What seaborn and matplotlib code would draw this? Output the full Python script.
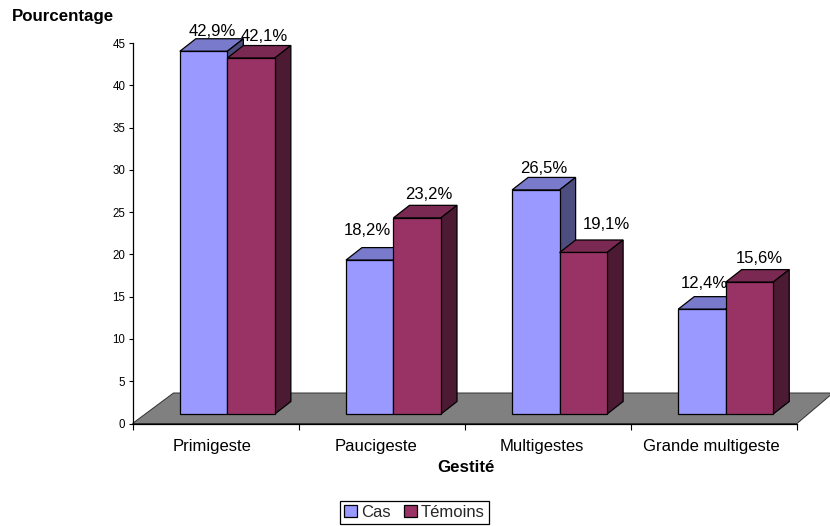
import matplotlib
matplotlib.use("Agg")
import matplotlib.pyplot as plt
from matplotlib.patches import Polygon, Patch
from matplotlib.transforms import offset_copy
import pandas as pd
import seaborn as sns

# Survey figures per gestity class
categories = ["Primigeste", "Paucigeste", "Multigestes", "Grande multigeste"]
cas = [42.9, 18.2, 26.5, 12.4]
temoins = [42.1, 23.2, 19.1, 15.6]
series_names = ["Cas", "Témoins"]
y_ticks = list(range(0, 50, 5))

# Face colours of each series: front, top, side
front_colors = ["#9999FF", "#993366"]
top_colors = ["#7A7ACC", "#7A2952"]
side_colors = ["#4D4D80", "#4D1A33"]

# Pseudo-3D layout, in pixels at 100 dpi
W, H = 830, 526
AX_L, AX_R, AX_TOP, AX_BOT = 132.5, 797.0, 43.0, 423.5
px_x = (AX_R - AX_L) / len(categories)
px_y = (AX_BOT - AX_TOP) / 45
BAR_SHIFT = (11.8 / px_x, 9.5 / px_y)
BAR_DEPTH = (16.0 / px_x, 12.5 / px_y)
FLOOR_LEFT = 41.0 / px_x
FLOOR_RIGHT = 36.0 / px_x
FLOOR_DEPTH = 30.5 / px_y
# Hand placement of the value labels (dx, dy in pixels from the bar's top-back edge)
label_nudge = [
    [(8.5, 7.5), (-2, 17.5), (8, 9), (2, 13.5)],
    [(13.5, 9.5), (12, 10.5), (23, 15), (9.5, 11)],
]
# Horizontal placement of the category names, in pixels from each group's centre
name_nudge = [-4, -6, -6, -3]

sns.set_theme(style="ticks")
plt.rcParams["font.family"] = ["Liberation Sans", "DejaVu Sans"]

fig = plt.figure(figsize=(W / 100, H / 100), dpi=100)
ax = fig.add_axes([AX_L / W, 1 - AX_BOT / H, (AX_R - AX_L) / W, (AX_BOT - AX_TOP) / H])

df = pd.DataFrame({
    "Gestité": categories * 2,
    "Série": [series_names[0]] * 4 + [series_names[1]] * 4,
    "Pourcentage": cas + temoins,
})
sns.barplot(
    data=df, x="Gestité", y="Pourcentage", hue="Série", order=categories,
    hue_order=series_names, palette=front_colors, width=0.572, saturation=1,
    edgecolor="black", linewidth=0.9, legend=False, ax=ax,
)

ax.set_xlim(-0.5, len(categories) - 0.5)
ax.set_ylim(0, 45)

# Grey floor under the columns
x0, x1 = ax.get_xlim()
ax.add_patch(Polygon(
    [(x0, 0), (x1, 0), (x1 + FLOOR_RIGHT, FLOOR_DEPTH), (x0 + FLOOR_LEFT, FLOOR_DEPTH)],
    closed=True, facecolor="#808080", edgecolor="#303030", linewidth=0.7,
    clip_on=False, zorder=1,
))

# Extrude each column with a top and a side face, and label it
for s, container in enumerate(ax.containers):
    for c, bar in enumerate(container):
        value = bar.get_height()
        left = bar.get_x() + BAR_SHIFT[0]
        right = left + bar.get_width()
        base = BAR_SHIFT[1]
        top = base + value
        dx, dy = BAR_DEPTH
        z = 3 + s
        bar.set_x(left)
        bar.set_y(base)
        bar.set_zorder(z + 0.2)
        bar.set_clip_on(False)
        ax.add_patch(Polygon(
            [(left, top), (right, top), (right + dx, top + dy), (left + dx, top + dy)],
            closed=True, facecolor=top_colors[s], edgecolor="black", linewidth=0.9,
            clip_on=False, zorder=z,
        ))
        ax.add_patch(Polygon(
            [(right, base), (right + dx, base + dy), (right + dx, top + dy), (right, top)],
            closed=True, facecolor=side_colors[s], edgecolor="black", linewidth=0.9,
            clip_on=False, zorder=z,
        ))
        nudge_x, nudge_y = label_nudge[s][c]
        ax.text(
            (left + right) / 2, top + dy, f"{value:.1f}%".replace(".", ","),
            transform=offset_copy(ax.transData, fig=fig, x=nudge_x, y=nudge_y, units="dots"),
            ha="center", va="center", fontsize=12, color="black", zorder=10, clip_on=False,
        )

# Axes: ticks between groups, category names centred under them
ax.set_yticks(y_ticks)
ax.set_xticks([i - 0.5 for i in range(len(categories) + 1)])
ax.set_xticklabels([])
ax.tick_params(axis="y", length=3.2, width=0.8, labelsize=8.3, pad=2, color="black", labelcolor="black")
ax.tick_params(axis="x", length=4.6, width=0.8, color="black")
for side in ("left", "bottom"):
    ax.spines[side].set_linewidth(0.9)
    ax.spines[side].set_color("black")
    ax.spines[side].set_zorder(2)
for side in ("top", "right"):
    ax.spines[side].set_visible(False)
ax.set_xlabel("")
ax.set_ylabel("")

for i, name in enumerate(categories):
    label_tf = offset_copy(ax.get_xaxis_transform(), fig=fig, x=name_nudge[i], y=-22.5, units="dots")
    ax.text(i, 0, name, transform=label_tf, ha="center", va="center", fontsize=12, color="black")

fig.text(12 / W, 1 - 16 / H, "Pourcentage", ha="left", va="center", fontsize=12.2, fontweight="bold", color="black")
fig.text(465.5 / W, 1 - 468 / H, "Gestité", ha="center", va="center", fontsize=12.2, fontweight="bold", color="black")

# Legend in a square black box at the bottom
handles = [Patch(facecolor=front_colors[i], edgecolor="black", linewidth=0.9, label=series_names[i]) for i in range(2)]
leg = fig.legend(
    handles=handles, loc="center", bbox_to_anchor=(414.5 / W, 1 - 512.5 / H), ncol=2,
    frameon=True, fancybox=False, edgecolor="black", framealpha=1,
    fontsize=12, handlelength=0.75, handleheight=0.75, handletextpad=0.25,
    columnspacing=0.8, borderpad=0.25, borderaxespad=0,
)
leg.get_frame().set_linewidth(0.9)

fig.savefig("out.png", dpi=100, facecolor="white")
